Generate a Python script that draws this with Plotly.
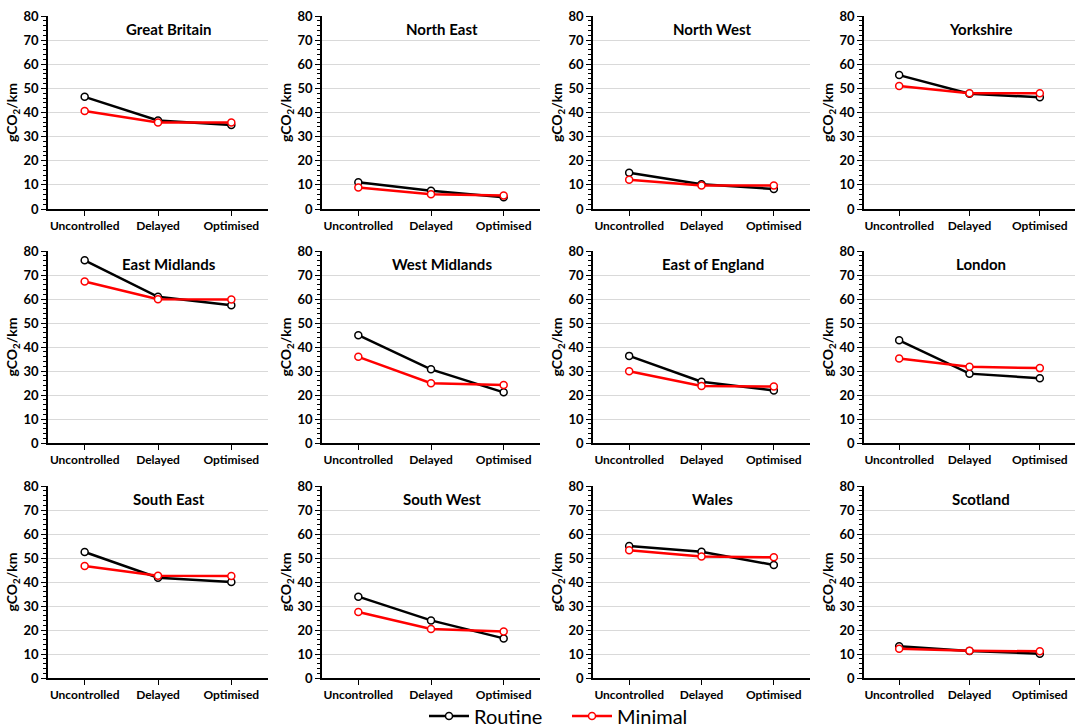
import plotly.graph_objects as go
from plotly.subplots import make_subplots

categories = ["Uncontrolled", "Delayed", "Optimised"]
regions = ["Great Britain", "North East", "North West", "Yorkshire",
           "East Midlands", "West Midlands", "East of England", "London",
           "South East", "South West", "Wales", "Scotland"]
routine = [
    [46.5, 36.7, 34.8],
    [11.1, 7.6, 4.9],
    [15.0, 10.3, 8.3],
    [55.5, 47.8, 46.3],
    [76.1, 60.9, 57.4],
    [44.9, 30.7, 21.1],
    [36.3, 25.5, 21.9],
    [42.8, 28.9, 27.0],
    [52.5, 41.8, 40.0],
    [33.9, 24.0, 16.5],
    [55.0, 52.6, 47.1],
    [13.2, 11.3, 10.1],
]
minimal = [
    [40.6, 35.9, 35.9],
    [8.9, 6.1, 5.6],
    [12.1, 9.7, 9.7],
    [51.0, 48.0, 48.0],
    [67.3, 59.9, 59.8],
    [35.9, 24.9, 24.2],
    [29.9, 23.8, 23.5],
    [35.2, 31.8, 31.2],
    [46.7, 42.6, 42.5],
    [27.5, 20.4, 19.4],
    [53.2, 50.6, 50.3],
    [12.2, 11.4, 11.1],
]
y_ticks = [0, 10, 20, 30, 40, 50, 60, 70, 80]

W, H = 1076, 728
col_px = [(48, 268), (322, 540), (593, 810), (864, 1075)]
row_px = [(16, 209), (251, 443), (486, 678)]

fig = make_subplots(rows=3, cols=4)
FONT = "Lato"

for i, name in enumerate(regions):
    r, c = divmod(i, 4)
    showleg = i == 0
    fig.add_trace(go.Scatter(
        x=categories, y=routine[i], mode="lines+markers", name="Routine",
        line=dict(color="black", width=2.5),
        marker=dict(symbol="circle", size=7, color="white",
                    line=dict(color="black", width=1.5)),
        showlegend=showleg, legendgroup="r"), row=r + 1, col=c + 1)
    fig.add_trace(go.Scatter(
        x=categories, y=minimal[i], mode="lines+markers", name="Minimal",
        line=dict(color="#FF0000", width=2.5),
        marker=dict(symbol="circle", size=7, color="white",
                    line=dict(color="#FF0000", width=1.5)),
        showlegend=showleg, legendgroup="m"), row=r + 1, col=c + 1)

    x0, x1 = col_px[c]
    y0, y1 = row_px[r]
    idx = "" if i == 0 else str(i + 1)
    fig.layout["xaxis" + idx].update(
        domain=[x0 / W, x1 / W], type="category", range=[-0.5, 2.5],
        showline=True, linecolor="black", linewidth=1.5,
        ticks="outside", ticklen=5, tickcolor="black", showgrid=False,
        tickfont=dict(family=FONT, size=12, color="black", weight="bold"),
        automargin=False, fixedrange=True)
    fig.layout["yaxis" + idx].update(
        domain=[1 - y1 / H, 1 - y0 / H], range=[0, 80],
        tickvals=y_ticks, showline=True, linecolor="black", linewidth=1.5,
        ticks="outside", ticklen=5, tickcolor="black",
        showgrid=True, gridcolor="#d9d9d9", gridwidth=1, zeroline=False,
        minor=dict(dtick=2, ticks="outside", ticklen=3, tickcolor="black",
                   showgrid=False),
        tickfont=dict(family=FONT, size=13, color="black", weight="bold"),
        title=dict(text="gCO<sub>2</sub>/km", standoff=3,
                   font=dict(family=FONT, size=14, color="black", weight="bold")),
        automargin=False, fixedrange=True)
    fig.add_annotation(
        x=((x0 + x1) / 2 + 11) / W, y=1 - (y0 + 13) / H, xref="paper",
        yref="paper", text=name, showarrow=False,
        font=dict(family=FONT, size=15, color="black", weight="bold"),
        xanchor="center", yanchor="middle")

fig.update_layout(
    width=W, height=H, margin=dict(l=0, r=0, t=0, b=0, autoexpand=False),
    plot_bgcolor="white", paper_bgcolor="white",
    legend=dict(orientation="h", x=424 / W, xanchor="left",
                y=1 - 716 / H, yanchor="middle",
                bgcolor="rgba(0,0,0,0)",
                font=dict(family=FONT, size=20, color="black"),
                itemwidth=40, entrywidth=88, tracegroupgap=0),
)

fig.write_html("out.html", config={"displayModeBar": False},
               post_script="document.body.style.margin='0px';"
                           "document.body.style.overflow='hidden';")
